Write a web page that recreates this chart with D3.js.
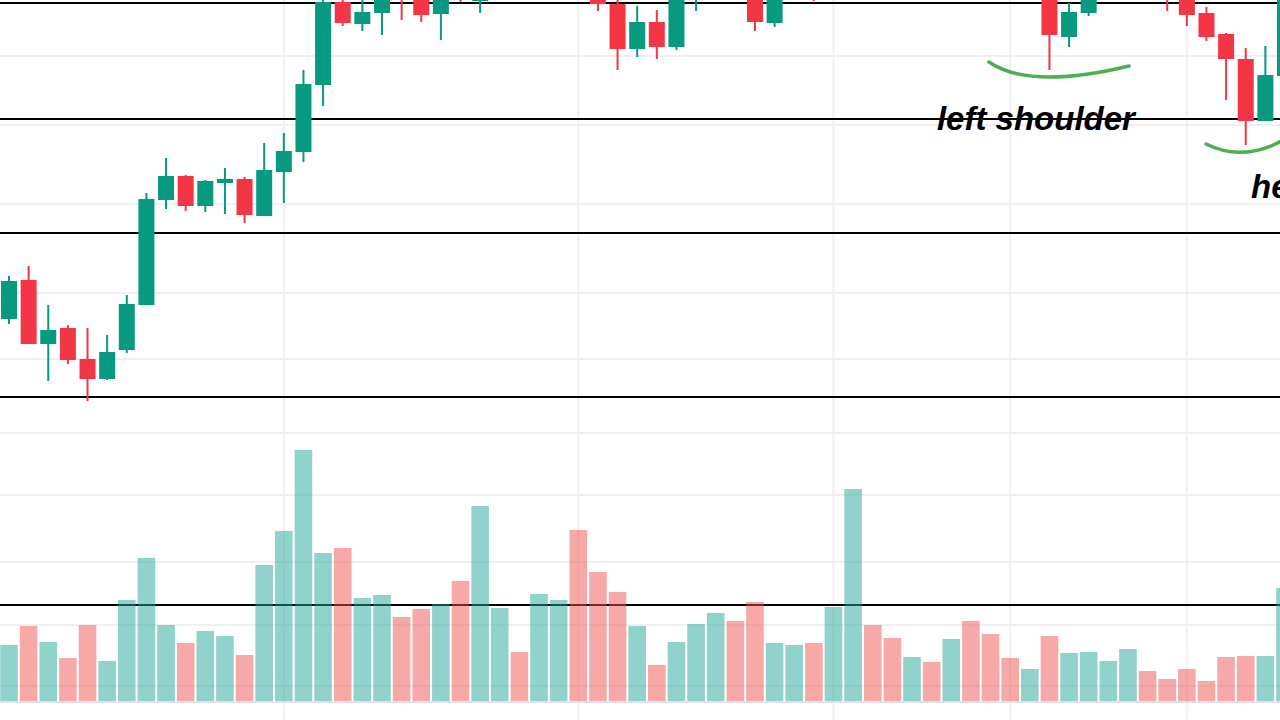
<!DOCTYPE html>
<html>
<head>
<meta charset="utf-8">
<script src="https://cdn.jsdelivr.net/npm/d3@7"></script>
<style>
  html, body { margin: 0; padding: 0; background: #ffffff; overflow: hidden; }
  svg { display: block; }
</style>
</head>
<body>
<svg id="chart" width="1280" height="720"></svg>
<script>
// ---- Data ----
const opens  = [120.25,130,114,118,110.25,105.25,112.5,123.75,150,156,148.5,154.25,155.25,146,157,162,178.75,199.5,194,196.75,207,202.5,196.5,207.5,199.75,205,210,205.5,208.75,212,204.5,199,187.75,194.5,188.25,201.5,205,208,204.5,194.25,200.75,206,201.5,206.5,215,210,205,207.5,203.75,207,203,202.5,201.5,203.5,190.75,196.75,200.75,203.5,206,202.5,200.75,196.75,191.5,185.25,169.75,181];
const highs  = [131,133.5,123.75,118.75,118,116.25,126.25,151.75,160.5,156.25,155,158,155.75,164.25,166.75,182.5,201,200.75,201,203,208.5,204,205,209,206,212.5,212,211.25,213.75,213,206,201.5,198.5,197.5,201.5,206.25,210,210.5,206.5,202,207.5,207.5,208,217.5,217,212.5,210,209,208.5,208,205,204,205.5,205,199.25,201.5,205,207.5,207,204,202,198.25,191.75,188,188.5,201.5];
const lows   = [119,114,104.75,109,99.75,105,111.75,123.75,147.75,147.25,147,146.5,144.25,146,149.25,159.5,173.5,193.5,192.25,191.25,195,194.5,190,199.5,196.75,202,203,203.75,206.25,202.5,197.25,182.5,185.75,185.25,187.5,197.25,202,202.5,192.25,193.25,200.75,199.75,201,205,207.5,203,202.5,201.25,202,201.5,200.5,200.5,200.5,182.5,188.25,196,200.25,201.5,201,197.25,193.5,189.75,175,163.75,169.75,181];
const closes = [129.75,114,117.5,110,105.25,112,124,150.25,156,148.5,154.75,155.25,146.25,157.5,162.25,179,199.5,194.25,197,201.5,202,196.25,202,201.5,204.5,210,205.5,208.75,212,205,199,187.75,194.5,188.25,200.5,205,208,204.5,194.5,200.75,206,201.5,206.5,215,210,205,207.5,203.75,207,203,201.5,201.25,204,191.25,197,200.75,203.5,206,202.5,200.5,196.25,190.75,185.25,169.75,181.25,201];
const volumes = [5.6,7.5,5.9,4.3,7.6,4.0,10.1,14.3,7.6,5.8,7.0,6.5,4.6,13.6,17.0,25.1,14.8,15.3,10.3,10.6,8.4,9.2,9.7,12.0,19.5,9.3,4.9,10.7,10.1,17.1,12.9,10.9,7.5,3.6,5.9,7.7,8.8,8.0,9.9,5.8,5.6,5.8,9.4,21.2,7.6,6.3,4.4,3.9,6.2,8.0,6.7,4.3,3.2,6.5,4.8,4.9,4.0,5.2,3.0,2.2,3.2,2.0,4.4,4.5,4.5,11.3];

// horizontal drawn levels (price)
const levelLines = [199.25, 170.25, 141.75, 100.75, 48.75];
// light grid levels (price) and vertical grid at candle indices
const gridLevels = [186, 168.75, 149, 126.75, 110.25, 91.75, 76.25, 59.5, 43.75, 28.5];
const gridIndices = [14, 29, 42, 51, 60];

// annotations: [index, price]
const labels = [
  { text: "left shoulder", at: [47.27, 167.5] },
  { text: "head", at: [63.27, 150.5] }
];
const arcs = [
  [[49.92, 184.5], [51.98, 177.5], [57.06, 183.5]],
  [[60.98, 164], [63.01, 159], [65.26, 166]]
];

// ---- Drawing ----
const W = 1280, H = 720;
const svg = d3.select("#chart");

const x = d3.scaleLinear().domain([0, 65]).range([9, 1285]);
const y = d3.scaleLinear().domain([200, 20]).range([0, 720]);
const v = d3.scaleLinear().domain([0, 30]).range([701, 401]);

const bodyW = 16, volW = 17.6, wickW = 2;

const data = opens.map((o, i) => ({ i, o, h: highs[i], l: lows[i], c: closes[i], vol: volumes[i], up: closes[i] >= o }));

svg.append("rect").attr("width", W).attr("height", H).attr("fill", "#ffffff");

// grid
const grid = svg.append("g");
grid.selectAll("line.h").data(gridLevels).join("line")
  .attr("x1", 0).attr("x2", W)
  .attr("y1", d => y(d)).attr("y2", d => y(d))
  .attr("stroke", "#f0f0f0").attr("stroke-width", 2);
grid.selectAll("line.v").data(gridIndices).join("line")
  .attr("y1", 0).attr("y2", H)
  .attr("x1", d => x(d)).attr("x2", d => x(d))
  .attr("stroke", "#f0f0f0").attr("stroke-width", 2);

// drawn black level lines
svg.append("g").selectAll("line").data(levelLines).join("line")
  .attr("x1", 0).attr("x2", W)
  .attr("y1", d => Math.round(y(d))).attr("y2", d => Math.round(y(d)))
  .attr("stroke", "#000000").attr("stroke-width", 2);

// volume
svg.append("g").selectAll("rect").data(data).join("rect")
  .attr("x", d => x(d.i) - volW / 2)
  .attr("width", volW)
  .attr("y", d => v(d.vol))
  .attr("height", d => v(0) - v(d.vol))
  .attr("fill", d => d.up ? "rgba(38,166,154,0.5)" : "rgba(239,83,80,0.5)");

// bottom border
svg.append("line").attr("x1", 0).attr("x2", W)
  .attr("y1", v(0) + 1).attr("y2", v(0) + 1)
  .attr("stroke", "#e0e3eb").attr("stroke-width", 2);

// candles
const cg = svg.append("g");
const up = "#089981", down = "#f23645";
cg.selectAll("rect.wick").data(data).join("rect")
  .attr("x", d => x(d.i) - wickW / 2)
  .attr("width", wickW)
  .attr("y", d => y(d.h))
  .attr("height", d => Math.max(0.5, y(d.l) - y(d.h)))
  .attr("fill", d => d.up ? up : down);
cg.selectAll("rect.body").data(data).join("rect")
  .attr("x", d => x(d.i) - bodyW / 2)
  .attr("width", bodyW)
  .attr("y", d => y(Math.max(d.o, d.c)))
  .attr("height", d => Math.max(1, Math.abs(y(d.o) - y(d.c))))
  .attr("fill", d => d.up ? up : down);

// annotation arcs
svg.append("g").selectAll("path").data(arcs).join("path")
  .attr("d", a => {
    const p = d3.path();
    p.moveTo(x(a[0][0]), y(a[0][1]));
    p.quadraticCurveTo(x(a[1][0]), y(a[1][1]), x(a[2][0]), y(a[2][1]));
    return p.toString();
  })
  .attr("fill", "none")
  .attr("stroke", "#4caf50")
  .attr("stroke-width", 3.5)
  .attr("stroke-linecap", "round");

// annotation labels
svg.append("g").selectAll("text").data(labels).join("text")
  .attr("x", d => x(d.at[0]))
  .attr("y", d => y(d.at[1]))
  .attr("font-family", "'Liberation Sans', Arial, sans-serif")
  .attr("font-weight", "bold")
  .attr("font-style", "italic")
  .attr("font-size", 33)
  .attr("fill", "#000000")
  .text(d => d.text);
</script>
</body>
</html>
